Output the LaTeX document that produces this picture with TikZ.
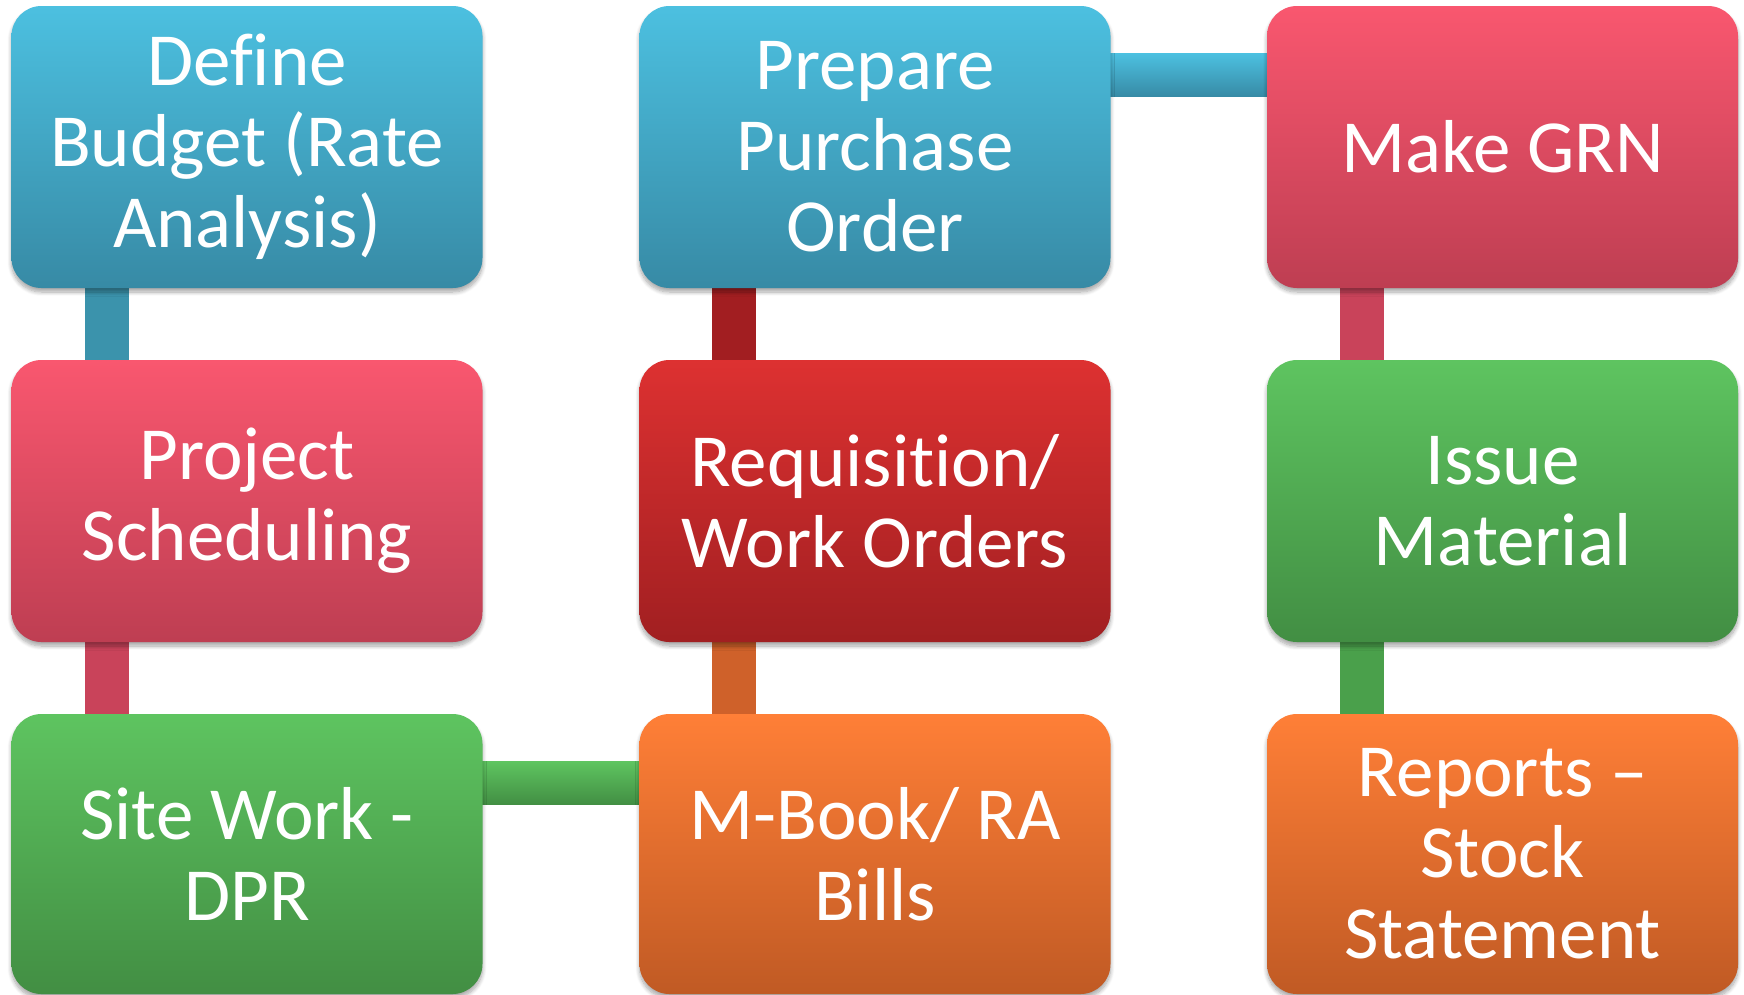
\documentclass[tikz,border=0pt]{standalone}
\usepackage{fontspec}
\setmainfont{Carlito}[Ligatures={NoCommon,NoRare}]
\usetikzlibrary{shadows.blur,calc}
\pgfdeclarelayer{background}
\pgfsetlayers{background,main}
\definecolor{blueT}{HTML}{4CC0E0}\definecolor{blueB}{HTML}{378AA5}
\definecolor{pinkT}{HTML}{F9576F}\definecolor{pinkB}{HTML}{BE3E52}
\definecolor{greenT}{HTML}{5EC460}\definecolor{greenB}{HTML}{428E43}
\definecolor{redT}{HTML}{DD3131}\definecolor{redB}{HTML}{A11F21}
\definecolor{orangeT}{HTML}{FF7F37}\definecolor{orangeB}{HTML}{C05A24}
\definecolor{barBlue}{HTML}{3B93AC}\definecolor{barPink}{HTML}{C9435A}
\definecolor{barRed}{HTML}{A21E21}\definecolor{barOrange}{HTML}{CF612A}
\definecolor{barGreen}{HTML}{4AA04B}
\tikzset{
  procbox/.style={rounded corners=30pt, minimum width=471pt, minimum height=282pt,
    inner sep=0pt, text=white, align=center,
    font=\fontsize{75}{81}\selectfont,
    blur shadow={shadow xshift=0pt, shadow yshift=-4pt, shadow blur radius=4pt,
      shadow blur steps=8, shadow opacity=35}},
  bluebox/.style={procbox, top color=blueT, bottom color=blueB},
  pinkbox/.style={procbox, top color=pinkT, bottom color=pinkB},
  greenbox/.style={procbox, top color=greenT, bottom color=greenB},
  redbox/.style={procbox, top color=redT, bottom color=redB},
  orangebox/.style={procbox, top color=orangeT, bottom color=orangeB},
  vbar/.style={line width=44pt},
}
\begin{document}
\begin{tikzpicture}[x=1pt,y=-1pt]
\useasboundingbox (0,0) rectangle (1744,994);
% row 1
\node[bluebox] (budget) at (247,147) {Define\\Budget (Rate\\Analysis)};
\node[bluebox] (po) at (875,147) {Prepare\\Purchase\\Order};
\node[pinkbox] (grn) at (1502.5,147) {Make GRN};
% row 2
\node[pinkbox] (sched) at (247,501) {Project\\Scheduling};
\node[redbox] (req) at (875,501) {Requisition/\\Work Orders};
\node[greenbox] (issue) at (1502.5,501) {Issue\\Material};
% row 3
\node[greenbox, minimum height=280pt] (site) at (247,854) {Site Work -\\DPR};
\node[orangebox, minimum height=280pt] (mbook) at (875,854) {M-Book/ RA\\Bills};
\node[orangebox, minimum height=280pt] (reports) at (1502.5,854) {Reports --\\Stock\\Statement};
% connectors
\begin{pgfonlayer}{background}
\draw[vbar, barBlue] ($(budget.south west)+(96,-10)$) -- ($(sched.north west)+(96,10)$);
\draw[vbar, barPink] ($(sched.south west)+(96,-10)$) -- ($(site.north west)+(96,10)$);
\draw[vbar, barRed] ($(po.south west)+(95,-10)$) -- ($(req.north west)+(95,10)$);
\draw[vbar, barOrange] ($(req.south west)+(95,-10)$) -- ($(mbook.north west)+(95,10)$);
\draw[vbar, barPink] ($(grn.south west)+(95,-10)$) -- ($(issue.north west)+(95,10)$);
\draw[vbar, barGreen] ($(issue.south west)+(95,-10)$) -- ($(reports.north west)+(95,10)$);
\path[top color=blueT, bottom color=blueB] ($(po.north east)+(-10,48)$) rectangle ($(grn.north west)+(10,91)$);
\path[top color=greenT, bottom color=greenB] ($(site.north east)+(-10,48)$) rectangle ($(mbook.north west)+(10,91)$);
\end{pgfonlayer}
\end{tikzpicture}
\end{document}
